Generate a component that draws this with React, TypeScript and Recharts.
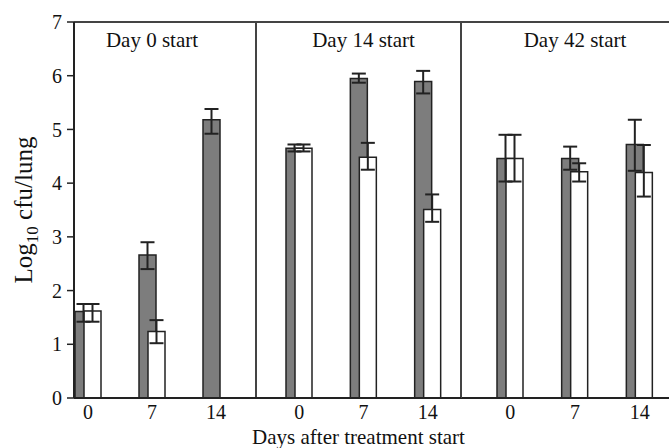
import React from 'react'
import {
  BarChart,
  Bar,
  XAxis,
  YAxis,
  CartesianGrid,
  ErrorBar,
  ReferenceLine,
} from 'recharts'

const days = ['0', '7', '14']
const panelTitles = ['Day 0 start', 'Day 14 start', 'Day 42 start']
const yTicks = [0, 1, 2, 3, 4, 5, 6, 7]

// grey bars, one array per panel; errors are [minus, plus]
const greyDay0 = [1.61, 2.66, 5.18]
const greyDay0Err = [[0.19, 0.14], [0.26, 0.24], [0.26, 0.2]]
const greyDay14 = [4.65, 5.95, 5.89]
const greyDay14Err = [[0.06, 0.07], [0.08, 0.09], [0.22, 0.2]]
const greyDay42 = [4.46, 4.46, 4.72]
const greyDay42Err = [[0.43, 0.44], [0.21, 0.22], [0.49, 0.46]]

// white bars
const whiteDay0 = [1.62, 1.24, null]
const whiteDay0Err = [[0.2, 0.13], [0.22, 0.21], null]
const whiteDay14 = [4.65, 4.48, 3.51]
const whiteDay14Err = [[0.06, 0.07], [0.23, 0.27], [0.23, 0.28]]
const whiteDay42 = [4.46, 4.21, 4.2]
const whiteDay42Err = [[0.43, 0.44], [0.18, 0.16], [0.45, 0.51]]

const FONT = "'Liberation Serif', 'DejaVu Serif', serif"
const INK = '#222'
const FRAME = '#444'

function YLabel(props: any) {
  const vb = props.viewBox
  const x = vb.x + 32
  const y = vb.y + vb.height / 2
  return (
    <text
      x={x}
      y={y}
      transform={`rotate(-90, ${x}, ${y})`}
      textAnchor="middle"
      fontFamily={FONT}
      fontSize={25}
      fill="#111"
    >
      <tspan>Log</tspan>
      <tspan fontSize={17} dy={6}>10</tspan>
      <tspan dy={-6}> cfu/lung</tspan>
    </text>
  )
}

interface PanelProps {
  width: number
  title: string
  grey: (number | null)[]
  greyErr: (number[] | null)[]
  white: (number | null)[]
  whiteErr: (number[] | null)[]
  pad: { left: number; right: number }
  first?: boolean
  last?: boolean
  xLabel?: string
}

function Panel({ width, title, grey, greyErr, white, whiteErr, pad, first, last, xLabel }: PanelProps) {
  const data = days.map((d, i) => ({
    day: d,
    grey: grey[i],
    greyErr: greyErr[i],
    white: white[i],
    whiteErr: whiteErr[i],
  }))

  return (
    <BarChart
      width={width}
      height={448}
      data={data}
      margin={{ top: 22, right: 0, bottom: 0, left: 0 }}
      barSize={17}
      barGap={-8}
    >
      <CartesianGrid
        stroke={FRAME}
        strokeWidth={2}
        horizontalCoordinatesGenerator={({ offset }: any) => [offset.top]}
        vertical={!last}
        verticalCoordinatesGenerator={({ offset }: any) => [offset.left + offset.width]}
      />
      <XAxis
        dataKey="day"
        interval={0}
        height={50}
        padding={pad}
        tickLine={false}
        tickSize={6}
        tickMargin={1}
        axisLine={{ stroke: INK, strokeWidth: 2 }}
        tick={{ fill: '#111', fontSize: 20, fontFamily: FONT }}
        label={
          xLabel
            ? {
                value: xLabel,
                position: 'insideBottom',
                offset: 4,
                fill: '#111',
                fontSize: 21,
                fontFamily: FONT,
              }
            : undefined
        }
      />
      {first ? (
        <YAxis
          domain={[0, 7]}
          ticks={yTicks}
          width={74}
          tickSize={7}
          tickMargin={5}
          axisLine={{ stroke: INK, strokeWidth: 2 }}
          tickLine={{ stroke: INK, strokeWidth: 1.5 }}
          tick={{ fill: '#111', fontSize: 20, fontFamily: FONT }}
          label={<YLabel />}
        />
      ) : (
        <YAxis domain={[0, 7]} hide />
      )}
      <ReferenceLine
        x="7"
        stroke="none"
        label={{
          value: title,
          position: 'insideTop',
          offset: 10,
          fill: '#111',
          fontSize: 21,
          fontFamily: FONT,
        }}
      />
      <Bar dataKey="grey" fill="#7d7d7d" stroke={INK} strokeWidth={1.5} isAnimationActive={false}>
        <ErrorBar dataKey="greyErr" width={7} stroke={INK} strokeWidth={2} />
      </Bar>
      <Bar dataKey="white" fill="#ffffff" stroke={INK} strokeWidth={1.5} isAnimationActive={false}>
        <ErrorBar dataKey="whiteErr" width={7} stroke={INK} strokeWidth={2} />
      </Bar>
    </BarChart>
  )
}

export default function App() {
  return (
    <div
      style={{
        position: 'absolute',
        left: 0,
        top: 0,
        width: 669,
        height: 448,
        background: '#fff',
        display: 'flex',
        overflow: 'hidden',
        fontFamily: FONT,
      }}
    >
      <style>{'.recharts-surface { overflow: visible; } .recharts-wrapper:nth-child(3) { z-index: 2; }'}</style>
      <Panel
        width={256}
        title={panelTitles[0]}
        grey={greyDay0}
        greyErr={greyDay0Err}
        white={whiteDay0}
        whiteErr={whiteDay0Err}
        pad={{ left: -18, right: 8 }}
        first
      />
      <Panel
        width={205}
        title={panelTitles[1]}
        grey={greyDay14}
        greyErr={greyDay14Err}
        white={whiteDay14}
        whiteErr={whiteDay14Err}
        pad={{ left: 11, right: 1 }}
        xLabel="Days after treatment start"
      />
      <Panel
        width={208}
        title={panelTitles[2]}
        grey={greyDay42}
        greyErr={greyDay42Err}
        white={whiteDay42}
        whiteErr={whiteDay42Err}
        pad={{ left: 17, right: -3 }}
        last
      />
    </div>
  )
}
